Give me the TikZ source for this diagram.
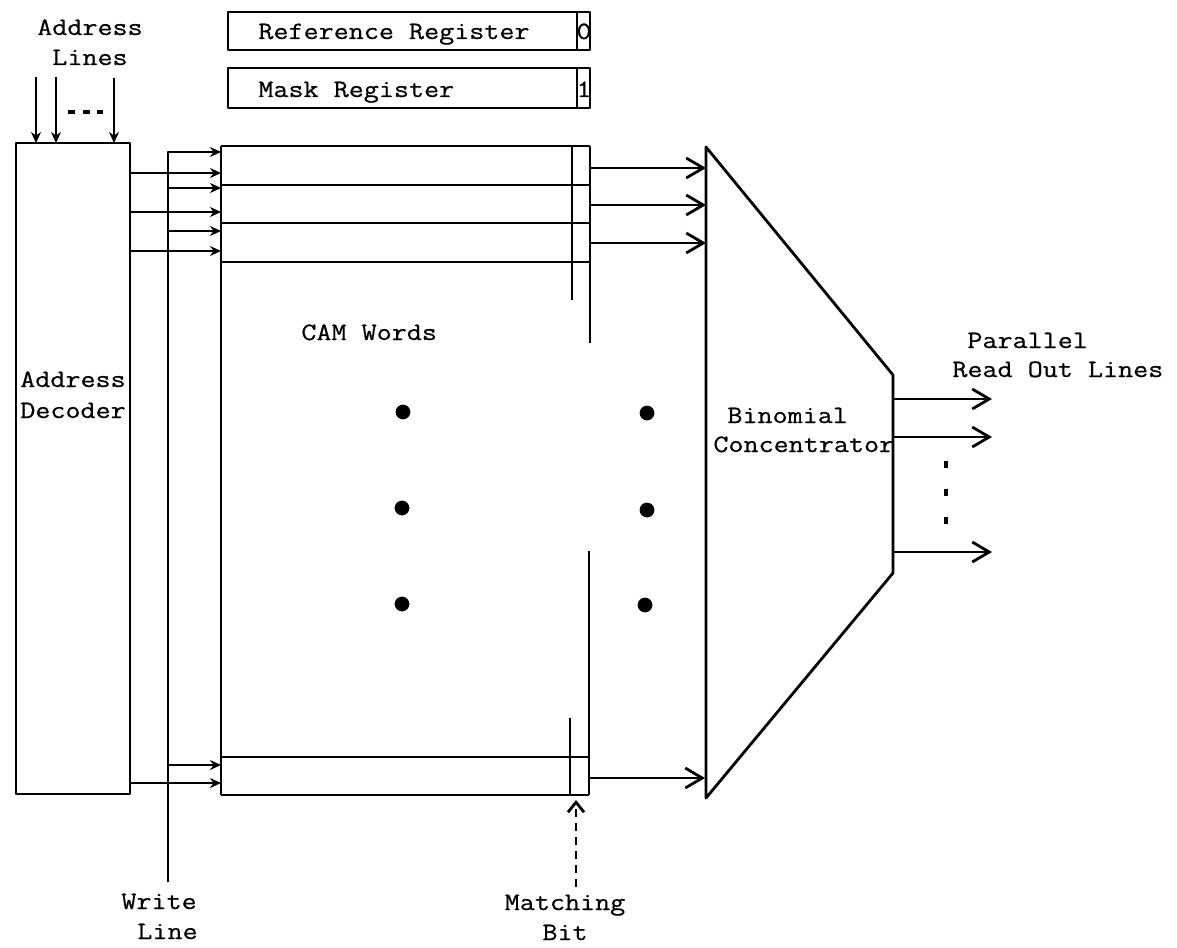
\documentclass[tikz,border=0pt]{standalone}
\usepackage{fontspec}
\setmonofont{Latin Modern Mono}[FakeStretch=1.17,FakeBold=0.6]
\usetikzlibrary{arrows.meta}
\begin{document}
\begin{tikzpicture}[x=0.5pt,y=-0.5pt, line width=1.4pt, line join=round,
  lbl/.style={font=\fontsize{12.5}{15}\selectfont\ttfamily, inner sep=0pt},
  bigarrow/.style={-{Straight Barb[length=8.5pt,width=10pt]}},
  smallarrow/.style={-{Stealth[length=5.5pt,width=5pt]}},
  dotmark/.style={fill=black},
]
\useasboundingbox (0,0) rectangle (1177,947);

% ---------- registers ----------
\draw (228,12) rectangle (590,50);
\draw (577,12) -- (577,50);
\draw (228,68) rectangle (590,108);
\draw (577,68) -- (577,108);
\node[lbl, anchor=base west] (refreg) at (257,39) {Reference Register};
\node[lbl, anchor=base] (zero) at (584,39) {0};
\node[lbl, anchor=base west] (maskreg) at (257,97) {Mask Register};
\node[lbl, anchor=base] (one) at (584,97) {1};

% ---------- address lines ----------
\node[lbl, anchor=base] (addrA) at (90,35) {Address};
\node[lbl, anchor=base] (addrB) at (90,65) {Lines};
\coordinate (a1t) at (36,77);  \coordinate (a1b) at (36,143);
\coordinate (a2t) at (56,77);  \coordinate (a2b) at (56,143);
\coordinate (a3t) at (114,78); \coordinate (a3b) at (114,143);
\draw[smallarrow] (a1t) -- (a1b);
\draw[smallarrow] (a2t) -- (a2b);
\draw[smallarrow] (a3t) -- (a3b);
\draw[line width=1.9pt] (68,112) -- (75,112) (83,112) -- (90,112) (97,112) -- (103,112);

% ---------- address decoder ----------
\draw (16,143) rectangle (130,794);
\node[lbl, anchor=base] (decA) at (73,387) {Address};
\node[lbl, anchor=base] (decB) at (73,418) {Decoder};

% ---------- CAM array ----------
\coordinate (camTL) at (221,146);
\coordinate (camBL) at (221,795);
\draw (camTL) -- (590,146);
\draw (camTL) -- (camBL);
\draw (221,185) -- (590,185);
\draw (221,223) -- (590,223);
\draw (221,262) -- (590,262);
\draw (590,146) -- (590,343);
\draw (572,146) -- (572,300);
\draw (221,757) -- (589,757);
\draw (camBL) -- (589,795);
\draw (589,551) -- (589,795);
\draw (570,718) -- (570,795);
\node[lbl, anchor=base west] (camwords) at (300,340) {CAM Words};

\foreach \p in {(403,412),(647,413),(402,508),(647,510),(402,604),(645,605)}
  \fill[dotmark] \p circle[radius=3.7pt];

% ---------- write line ----------
\coordinate (wbot) at (168,882);
\coordinate (w1) at (221,152);
\draw[smallarrow] (wbot) |- (w1);
\draw[smallarrow] (168,188) -- (221,188);
\draw[smallarrow] (168,231) -- (221,231);
\draw[smallarrow] (168,765) -- (221,765);
\node[lbl, anchor=base west] (writeA) at (120,909) {Write};
\node[lbl, anchor=base west] (writeB) at (136,939) {Line};

% ---------- decoder outputs ----------
\draw[smallarrow] (130,173) -- (221,173);
\draw[smallarrow] (130,212) -- (221,212);
\draw[smallarrow] (130,251) -- (221,251);
\draw[smallarrow] (130,783) -- (221,783);

% ---------- binomial concentrator ----------
\coordinate (cTL) at (706,147);
\coordinate (cTR) at (893,375);
\coordinate (cBR) at (893,573);
\coordinate (cBL) at (706,798);
\draw (cTL) -- (cTR) -- (cBR) -- (cBL) -- cycle;
\node[lbl, anchor=base west] (binA) at (726,423) {Binomial};
\node[lbl, anchor=base west] (binB) at (712,452) {Concentrator};

% CAM -> concentrator
\draw[bigarrow] (590,168) -- (706,168);
\draw[bigarrow] (590,205) -- (706,205);
\draw[bigarrow] (590,243) -- (706,243);
\draw[bigarrow] (589,778) -- (705,778);

% outputs
\draw[bigarrow] (893,399) -- (992,399);
\draw[bigarrow] (893,437) -- (992,437);
\draw[bigarrow] (893,552) -- (992,552);
\draw[line width=1.6pt] (946,461) -- (946,468) (946,489) -- (946,496) (946,517) -- (946,524);
\node[lbl, anchor=base west] (parA) at (966,348) {Parallel};
\node[lbl, anchor=base west] (parB) at (951,377) {Read Out Lines};

% ---------- matching bit ----------
\coordinate (mbot) at (576,887);
\coordinate (mtop) at (576,800);
\draw[dash pattern=on 4pt off 3pt, -{Straight Barb[length=5pt,width=8pt]}] (mbot) -- (mtop);
\node[lbl, anchor=base] (matchA) at (565,910) {Matching};
\node[lbl, anchor=base] (matchB) at (565,940) {Bit};
\end{tikzpicture}
\end{document}
